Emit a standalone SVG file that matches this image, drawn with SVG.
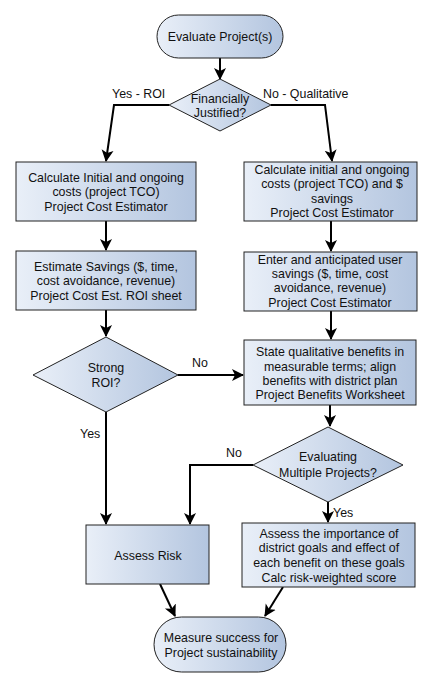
<svg xmlns="http://www.w3.org/2000/svg" width="435" height="688" viewBox="0 0 435 688">
<defs>
<linearGradient id="g" x1="0" y1="0" x2="1" y2="0">
<stop offset="0" stop-color="#e9eff8"/>
<stop offset="1" stop-color="#b3c5df"/>
</linearGradient>
<marker id="ah" markerUnits="userSpaceOnUse" markerWidth="12" markerHeight="14" viewBox="0 0 12 14" refX="11" refY="7" orient="auto">
<path d="M0,1 L12,7 L0,13 L3,7 Z" fill="#000"/>
</marker>
<style>
.n{fill:url(#g);stroke:#222;stroke-width:1}
.t{font-family:"Liberation Sans",Arial,sans-serif;font-size:12.4px;fill:#111;text-anchor:middle}
.l{font-family:"Liberation Sans",Arial,sans-serif;font-size:12.4px;fill:#111}
.c{fill:none;stroke:#000;stroke-width:2;marker-end:url(#ah)}
</style>
</defs>
<rect width="435" height="688" fill="#fff"/>
<g id="connectors">
<path class="c" d="M220,58 L220,79"/>
<path class="c" d="M169,105 L114,105 L106,161"/>
<path class="c" d="M271,105 L325,105 L332,161"/>
<path class="c" d="M106,221 L106,250"/>
<path class="c" d="M331,221 L331,251"/>
<path class="c" d="M106,310 L106,336"/>
<path class="c" d="M331,311 L331,339"/>
<path class="c" d="M178,375 L243,375"/>
<path class="c" d="M330,405 L330,426"/>
<path class="c" d="M106,412 L106,524"/>
<path class="c" d="M253,465 L190,465 L190,524"/>
<path class="c" d="M328,502 L328,522"/>
<path class="c" d="M160,584 L175,616"/>
<path class="c" d="M283,587 L265,616"/>
<text class="l" x="112" y="98">Yes - ROI</text>
<text class="l" x="263" y="98">No - Qualitative</text>
<text class="l" x="192" y="367">No</text>
<text class="l" x="80" y="438">Yes</text>
<text class="l" x="226" y="457">No</text>
<text class="l" x="333" y="517">Yes</text>
</g>
<g id="start">
<rect class="n" x="157" y="15" width="126" height="43" rx="21.5"/>
<text class="t" x="220" y="41">Evaluate Project(s)</text>
</g>
<g id="financially">
<path class="n" d="M220,79 L271,105 L220,131 L169,105 Z"/>
<text class="t" x="220" y="103">Financially</text>
<text class="t" x="220" y="117">Justified?</text>
</g>
<g id="calc-left">
<rect class="n" x="16" y="162" width="180" height="59"/>
<text class="t" x="106" y="182">Calculate Initial and ongoing</text>
<text class="t" x="106" y="196">costs (project TCO)</text>
<text class="t" x="106" y="211">Project Cost Estimator</text>
</g>
<g id="estimate-left">
<rect class="n" x="16" y="251" width="180" height="59"/>
<text class="t" x="106" y="271">Estimate Savings ($, time,</text>
<text class="t" x="106" y="285">cost avoidance, revenue)</text>
<text class="t" x="106" y="300">Project Cost Est. ROI sheet</text>
</g>
<g id="calc-right">
<rect class="n" x="244" y="162" width="173" height="59"/>
<text class="t" x="332" y="174">Calculate initial and ongoing</text>
<text class="t" x="332" y="188">costs (project TCO) and $</text>
<text class="t" x="332" y="203">savings</text>
<text class="t" x="332" y="217">Project Cost Estimator</text>
</g>
<g id="enter-right">
<rect class="n" x="244" y="252" width="173" height="59"/>
<text class="t" x="330" y="264">Enter and anticipated user</text>
<text class="t" x="330" y="278">savings ($, time, cost</text>
<text class="t" x="330" y="292">avoidance, revenue)</text>
<text class="t" x="330" y="307">Project Cost Estimator</text>
</g>
<g id="strong-roi">
<path class="n" d="M106,337 L178,375 L106,412 L33,375 Z"/>
<text class="t" x="106" y="372">Strong</text>
<text class="t" x="106" y="387">ROI?</text>
</g>
<g id="state-qualitative">
<rect class="n" x="244" y="340" width="172" height="65"/>
<text class="t" x="330" y="356">State qualitative benefits in</text>
<text class="t" x="330" y="371">measurable terms; align</text>
<text class="t" x="330" y="385">benefits with district plan</text>
<text class="t" x="330" y="399">Project Benefits Worksheet</text>
</g>
<g id="multiple">
<path class="n" d="M328,427 L403,465 L328,502 L253,465 Z"/>
<text class="t" x="328" y="461">Evaluating</text>
<text class="t" x="328" y="477">Multiple Projects?</text>
</g>
<g id="assess-risk">
<rect class="n" x="86" y="525" width="123" height="59"/>
<text class="t" x="148" y="560">Assess Risk</text>
</g>
<g id="assess-importance">
<rect class="n" x="242" y="523" width="173" height="64"/>
<text class="t" x="329" y="538">Assess the importance of</text>
<text class="t" x="329" y="552">district goals and effect of</text>
<text class="t" x="329" y="567">each benefit on these goals</text>
<text class="t" x="329" y="582">Calc risk-weighted score</text>
</g>
<g id="measure">
<rect class="n" x="154" y="617" width="132" height="55" rx="27.5"/>
<text class="t" x="221" y="642">Measure success for</text>
<text class="t" x="221" y="657">Project sustainability</text>
</g>
</svg>
